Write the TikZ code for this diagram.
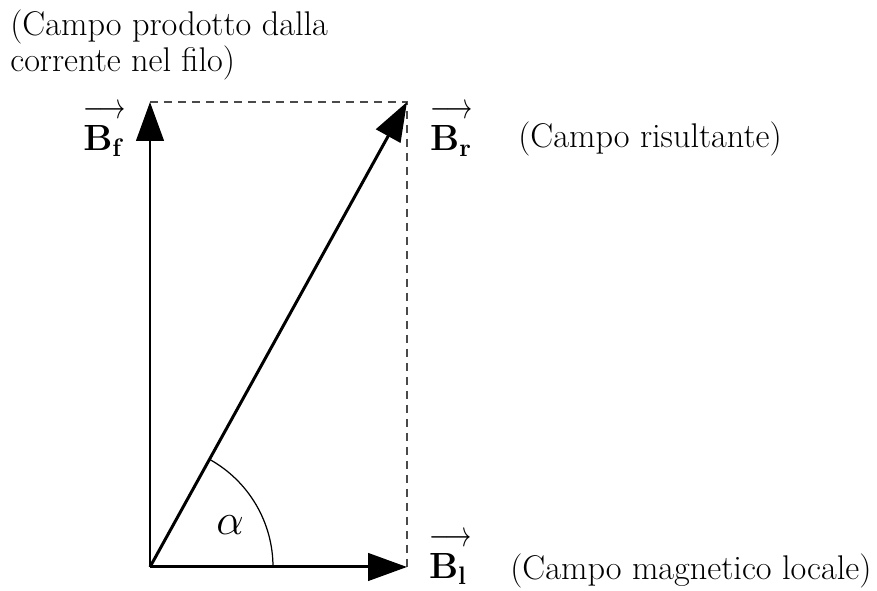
\documentclass[tikz,border=0pt]{standalone}
\usepackage{amsmath}
\usepackage{graphicx}
\usetikzlibrary{arrows.meta,calc,positioning}
\definecolor{Ink}{HTML}{000000}
\definecolor{DashGray}{HTML}{4A4A4A}
\newcommand{\vecB}[1]{$\rlap{\raisebox{0.85em}{\scalebox{0.72}[1]{$\longrightarrow$}}}\mathbf{B}_{\mathbf{#1}}$}
\tikzset{
  vector/.style={-{Triangle[length=0.78cm,width=0.55cm]}, line width=1.7pt, draw=Ink},
  guide/.style={draw=DashGray, line width=1.1pt, dash pattern=on 0.16cm off 0.12cm},
  anglearc/.style={draw=Ink, line width=0.7pt},
  lbl/.style={inner sep=0pt, font=\fontsize{21.5}{24}\selectfont},
  note/.style={inner sep=0pt, align=left, font=\fontsize{19.5}{21}\selectfont}
}
\begin{document}
\begin{tikzpicture}[x=0.02cm,y=0.02cm]
        \useasboundingbox (0,0) rectangle (877,591);
        \coordinate (o) at (150,24);
        \coordinate (bl) at (407,24);
        \coordinate (bf) at (150,489);
        \coordinate (br) at (407,489);
        \draw[guide] (bf)--(br)--(bl);
        \draw[vector] (o)--(bl);
        \draw[vector] (o)--(bf);
        \draw[vector] (o)--(br);
        \draw[anglearc] ($(o)+(123,0)$) arc[start angle=0,end angle=61.07,radius=123];
        \node[lbl,font=\fontsize{26}{26}\selectfont] (alpha) at (230,66) {$\alpha$};
        \node[lbl] (lf) at (104,460) {\vecB{f}};
        \node[lbl] (lr) at (451,460) {\vecB{r}};
        \node[lbl] (ll) at (448,32) {\vecB{l}};
        \node[note,anchor=north west] (nf) at (10,582) {(Campo prodotto dalla\\corrente nel filo)};
        \node[note,anchor=west] (nr) at (518,452) {(Campo risultante)};
        \node[note,anchor=west] (nl) at (510,20) {(Campo magnetico locale)};
      \end{tikzpicture}
\end{document}
